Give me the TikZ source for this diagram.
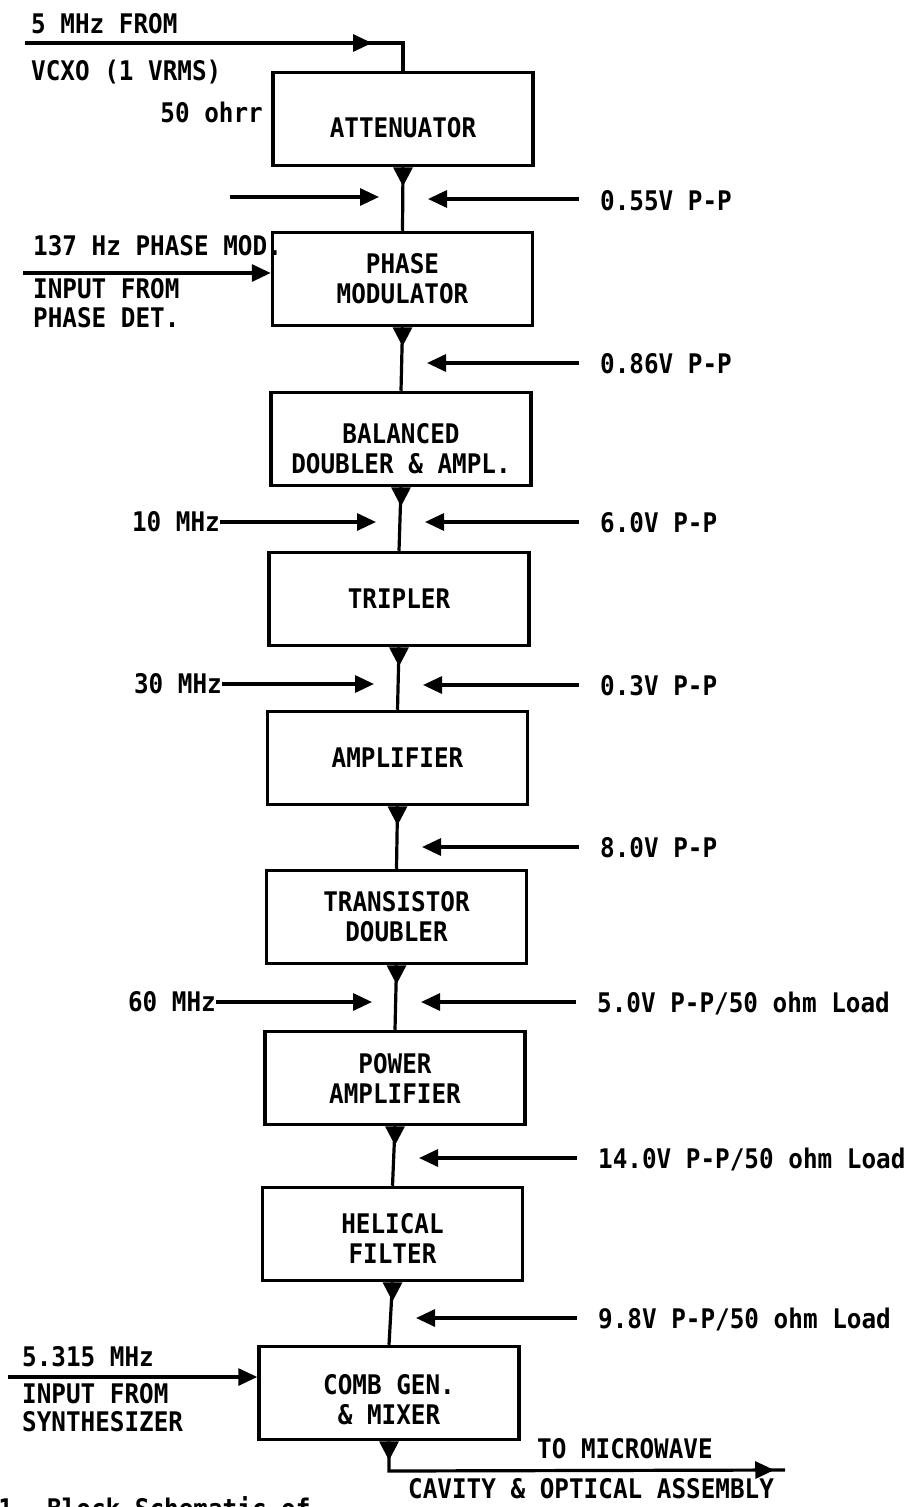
\documentclass[tikz,border=0pt]{standalone}
\usepackage{fontspec}
\newfontfamily\tw[FakeStretch=0.9]{DejaVu Sans Mono}
\usetikzlibrary{arrows.meta,decorations.markings}
\begin{document}
\begin{tikzpicture}[x=1pt,y=-1pt,
  every node/.style={font=\tw\bfseries\fontsize{27}{30}\selectfont, inner sep=0pt},
  blk/.style={draw, line width=3.5pt, minimum width=260pt, minimum height=93pt, align=center},
  wire/.style={line width=3.2pt},
  arr/.style={wire, -{Triangle[length=19pt,width=17pt]}},
  lw/.style={anchor=base west},
  le/.style={anchor=east},
  rv/.style={anchor=west},
  midarrow/.style={postaction={decorate}, decoration={markings,
     mark=at position #1 with {\arrow{Triangle[length=19pt,width=17pt]}}}},
]
\useasboundingbox (0,0) rectangle (906,1507);

% blocks
\node[blk] (att)  at (403,119)   {\rule{0pt}{38pt}ATTENUATOR};
\node[blk] (pm)   at (402.5,279) {PHASE\\MODULATOR};
\node[blk] (bal)  at (401,439)   {\rule{0pt}{40pt}BALANCED\\DOUBLER \& AMPL.};
\node[blk] (tri)  at (399,599)   {TRIPLER};
\node[blk] (amp)  at (397.5,758) {AMPLIFIER};
\node[blk] (tra)  at (396.5,917) {TRANSISTOR\\DOUBLER};
\node[blk] (pa)   at (395,1078)  {POWER\\AMPLIFIER};
\node[blk] (hel)  at (392.5,1234){\rule{0pt}{28pt}HELICAL\\FILTER};
\node[blk] (comb) at (389,1393)  {\rule{0pt}{33pt}COMB GEN.\\\& MIXER};

% chain links with output triangles
\foreach \a/\b in {att/pm,pm/bal,bal/tri,tri/amp,amp/tra,tra/pa,pa/hel,hel/comb}{
  \draw[wire] (\a.south) -- (\b.north);
}
\foreach \a in {att,pm,bal,tri,amp,tra,pa,hel,comb}{
  \fill ([xshift=-10pt]\a.south) -- ([xshift=10pt]\a.south) -- ([yshift=-19pt]\a.south) -- cycle;
}

% top input
\node[lw] (f5) at (31,33) {5 MHz FROM};
\node[lw] (vcxo) at (31,80) {VCXO (1 VRMS)};
\node[anchor=base east] (ohm) at (263,122) {50 ohrr};
\coordinate (vin) at (25,43);
\coordinate (vc) at (403,43);
\draw[wire, midarrow=347pt] (vin) -- (vc) -- (att.north);

% phase modulation input
\node[lw] (pmt) at (33,255) {137 Hz PHASE MOD.};
\node[lw] (pmi1) at (33,298) {INPUT FROM};
\node[lw] (pmi2) at (33,327) {PHASE DET.};
\coordinate (pin) at (23,273);
\draw[arr] (pin) -- (pin -| pm.west);

% left side arrows
\coordinate (l1a) at (230,197); \coordinate (l1b) at (379,197);
\draw[arr] (l1a) -- (l1b);
\node[le] (m10) at (220,522) {10 MHz};
\coordinate (l3b) at (376,522);
\draw[arr] (m10.east) -- (l3b);
\node[le] (m30) at (222,684) {30 MHz};
\coordinate (l4b) at (374,684);
\draw[arr] (m30.east) -- (l4b);
\node[le] (m60) at (216,1002) {60 MHz};
\coordinate (l6b) at (372,1002);
\draw[arr] (m60.east) -- (l6b);

% right side levels
\node[rv] (v1) at (600,201) {0.55V P-P};
\node[rv] (v2) at (600,364) {0.86V P-P};
\node[rv] (v3) at (600,523) {6.0V P-P};
\node[rv] (v4) at (600,686) {0.3V P-P};
\node[rv] (v5) at (600,848) {8.0V P-P};
\node[rv] (v6) at (597,1003) {5.0V P-P/50 ohm Load};
\node[rv] (v7) at (598,1159) {14.0V P-P/50 ohm Load};
\node[rv] (v8) at (598,1319) {9.8V P-P/50 ohm Load};
\coordinate (r1) at (428,199);
\coordinate (r2) at (427,363);
\coordinate (r3) at (425,522);
\coordinate (r4) at (423,685);
\coordinate (r5) at (422,847);
\coordinate (r6) at (421,1002);
\coordinate (r7) at (419,1158);
\coordinate (r8) at (416,1318);
\foreach \v/\r in {v1/r1,v2/r2,v3/r3,v4/r4,v5/r5,v6/r6,v7/r7,v8/r8}{
  \draw[arr] ([xshift=-21pt]\v.west |- \r) -- (\r);
}

% synthesizer input
\node[lw] (syn0) at (22,1366) {5.315 MHz};
\node[lw] (syn1) at (22,1403) {INPUT FROM};
\node[lw] (syn2) at (22,1431) {SYNTHESIZER};
\coordinate (sin) at (8,1377);
\draw[arr] (sin) -- (sin -| comb.west);

% output
\coordinate (ob) at (389,1471);
\coordinate (oe) at (785,1470);
\draw[wire, midarrow=415pt] (comb.south) -- (ob) -- (oe);
\node[lw] (tmw) at (537,1458) {TO MICROWAVE};
\node[lw] (cav) at (408,1498) {CAVITY \& OPTICAL ASSEMBLY};

% clipped caption
\begin{scope}
\clip (0,0) rectangle (906,1507);
\node[lw] (cap) at (-1.8,1518) {1. Block Schematic of};
\end{scope}
\end{tikzpicture}
\end{document}
